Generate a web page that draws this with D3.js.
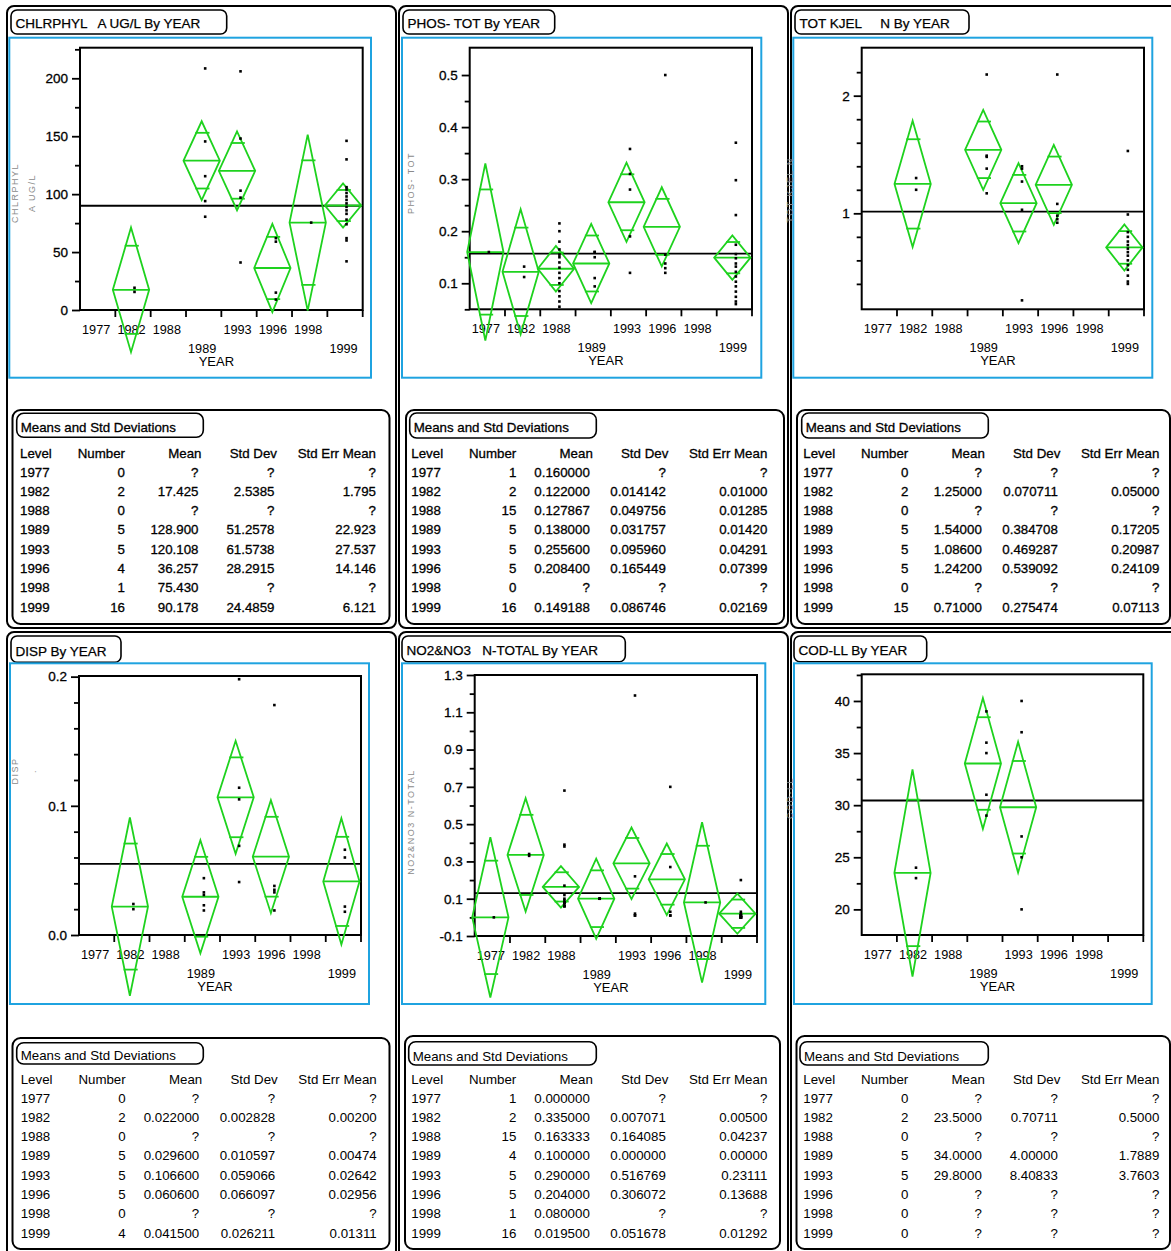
<!DOCTYPE html>
<html>
<head>
<meta charset="utf-8">
<script src="https://cdn.jsdelivr.net/npm/d3@7"></script>
<style>
  body { margin: 0; background: #fff; }
  svg text { font-family: "Liberation Sans", Arial, Helvetica, sans-serif; fill: #000; }
</style>
</head>
<body>
<svg id="chart" width="1171" height="1251"></svg>
<script>
// ---- data -------------------------------------------------------------
const years = ["1977", "1982", "1988", "1989", "1993", "1996", "1998", "1999"];
const labelRow = [0, 0, 0, 1, 0, 0, 0, 1];

const titles = ["CHLRPHYL   A UG/L By YEAR", "PHOS- TOT By YEAR", "TOT KJEL     N By YEAR",
                "DISP By YEAR", "NO2&NO3   N-TOTAL By YEAR", "COD-LL By YEAR"];
const sideLabels = [["CHLRPHYL", "A UG/L"], ["PHOS- TOT"], ["TOT KJEL N"], ["DISP", "."], ["NO2&NO3 N-TOTAL"], ["COD-LL"]];

const counts = [
  [0, 2, 0, 5, 5, 4, 1, 16],
  [1, 2, 15, 5, 5, 5, 0, 16],
  [0, 2, 0, 5, 5, 5, 0, 15],
  [0, 2, 0, 5, 5, 5, 0, 4],
  [1, 2, 15, 4, 5, 5, 1, 16],
  [0, 2, 0, 5, 5, 0, 0, 0]
];
const meanText = [
  ["?", "17.425", "?", "128.900", "120.108", "36.257", "75.430", "90.178"],
  ["0.160000", "0.122000", "0.127867", "0.138000", "0.255600", "0.208400", "?", "0.149188"],
  ["?", "1.25000", "?", "1.54000", "1.08600", "1.24200", "?", "0.71000"],
  ["?", "0.022000", "?", "0.029600", "0.106600", "0.060600", "?", "0.041500"],
  ["0.000000", "0.335000", "0.163333", "0.100000", "0.290000", "0.204000", "0.080000", "0.019500"],
  ["?", "23.5000", "?", "34.0000", "29.8000", "?", "?", "?"]
];
const sdText = [
  ["?", "2.5385", "?", "51.2578", "61.5738", "28.2915", "?", "24.4859"],
  ["?", "0.014142", "0.049756", "0.031757", "0.095960", "0.165449", "?", "0.086746"],
  ["?", "0.070711", "?", "0.384708", "0.469287", "0.539092", "?", "0.275474"],
  ["?", "0.002828", "?", "0.010597", "0.059066", "0.066097", "?", "0.026211"],
  ["?", "0.007071", "0.164085", "0.000000", "0.516769", "0.306072", "?", "0.051678"],
  ["?", "0.70711", "?", "4.00000", "8.40833", "?", "?", "?"]
];
const seText = [
  ["?", "1.795", "?", "22.923", "27.537", "14.146", "?", "6.121"],
  ["?", "0.01000", "0.01285", "0.01420", "0.04291", "0.07399", "?", "0.02169"],
  ["?", "0.05000", "?", "0.17205", "0.20987", "0.24109", "?", "0.07113"],
  ["?", "0.00200", "?", "0.00474", "0.02642", "0.02956", "?", "0.01311"],
  ["?", "0.00500", "0.04237", "0.00000", "0.23111", "0.13688", "?", "0.01292"],
  ["?", "0.5000", "?", "1.7889", "3.7603", "?", "?", "?"]
];
// 95% diamond half-heights (pooled), as drawn
const ciHalf = [
  [null, 53.8, null, 34.0, 34.0, 38.0, 76.0, 19.0],
  [0.170, 0.120, 0.044, 0.076, 0.076, 0.076, null, 0.0425],
  [null, 0.537, null, 0.340, 0.340, 0.340, null, 0.196],
  [null, 0.069, null, 0.0437, 0.0437, 0.0437, null, 0.0488],
  [0.430, 0.304, 0.111, 0.215, 0.192, 0.192, 0.430, 0.1075],
  [null, 9.94, null, 6.28, 6.28, null, null, null]
];
const grandMean = [90, 0.157, 1.015, 0.055, 0.13, 30.45];

const points = [
  [[], [19.2, 15.6], [], [208.5, 145.5, 115.5, 94, 80.5], [206, 148, 103, 97, 41], [62, 59, 15, 9], [75.43],
   [146, 130, 106, 104, 101, 98, 95, 92, 89, 86, 83, 78, 74, 62, 60, 42]],
  [[0.16], [0.132, 0.112],
   [0.215, 0.20, 0.18, 0.165, 0.155, 0.15, 0.14, 0.13, 0.12, 0.11, 0.10, 0.085, 0.075, 0.065, 0.055],
   [0.16, 0.16, 0.15, 0.11, 0.094], [0.358, 0.31, 0.28, 0.19, 0.12], [0.5, 0.155, 0.138, 0.129, 0.12], [],
   [0.37, 0.298, 0.231, 0.174, 0.156, 0.148, 0.138, 0.132, 0.122, 0.113, 0.103, 0.094, 0.084, 0.074, 0.065, 0.06]],
  [[], [1.30, 1.20], [], [2.18, 1.49, 1.48, 1.38, 1.17], [1.40, 1.38, 1.27, 1.03, 0.26], [2.18, 1.08, 0.98, 0.95, 0.92], [],
   [1.53, 0.99, 0.84, 0.80, 0.76, 0.73, 0.70, 0.67, 0.64, 0.60, 0.56, 0.52, 0.47, 0.42, 0.40]],
  [[], [0.024, 0.020], [], [0.044, 0.033, 0.031, 0.023, 0.019], [0.198, 0.114, 0.105, 0.069, 0.041],
   [0.178, 0.038, 0.035, 0.033, 0.019], [], [0.066, 0.06, 0.022, 0.018]],
  [[0], [0.34, 0.33],
   [0.68, 0.39, 0.38, 0.17, 0.12, 0.10, 0.09, 0.08, 0.08, 0.08, 0.08, 0.07, 0.06, 0.06, 0.06],
   [0.1, 0.1, 0.1, 0.1], [1.19, 0.22, 0.02, 0.01, 0.01], [0.70, 0.27, 0.03, 0.01, 0.01], [0.08],
   [0.20, 0.03, 0.02, 0.01, 0.01, 0.01, 0.01, 0.01, 0, 0, 0, 0, 0, 0, 0, 0]],
  [[], [24, 23], [], [39, 36, 35, 31, 29], [40, 37, 27, 25, 20], [], [], []]
];

const yDomain = [[0, 226.4], [0.05, 0.5525], [0.184, 2.408], [0, 0.2005], [-0.1, 1.3], [17.54, 42.56]];
const yMajor = [[0, 50, 100, 150, 200], [0.1, 0.2, 0.3, 0.4, 0.5], [1, 2], [0, 0.1, 0.2],
                [-0.1, 0.1, 0.3, 0.5, 0.7, 0.9, 1.1, 1.3], [20, 25, 30, 35, 40]];
const yMinor = [[25, 75, 125, 175, 225], [0.05, 0.15, 0.25, 0.35, 0.45], [0.4, 0.6, 0.8, 1.2, 1.4, 1.6, 1.8, 2.2],
                [0.02, 0.04, 0.06, 0.08, 0.12, 0.14, 0.16, 0.18], [0, 0.2, 0.4, 0.6, 0.8, 1.0, 1.2],
                [22.5, 27.5, 32.5, 37.5, 42.5]];
const yFormat = ["d", ".1f", "d", ".1f", ".1f", "d"];
const headers = ["Level", "Number", "Mean", "Std Dev", "Std Err Mean"];

// ---- layout -----------------------------------------------------------
const layout = [
  {frame: [7, 6, 396, 628], title: [11, 10, 226.7, 34], blue: [9.3, 37.7, 371, 377.7], plot: [80, 47.7, 362.7, 310],
   table: [12.5, 410, 389.5, 624], tTitle: [16.7, 413.3, 203.3, 437.3], levelX: 20, headY: 458, side: [18, 35], sideY: 193, heavy: true},
  {frame: [399, 6, 788, 628], title: [403, 10, 554.7, 34], blue: [402, 37.7, 761.3, 377.7], plot: [469.7, 47.7, 752, 309.3],
   table: [406, 410, 784, 624], tTitle: [409.7, 413, 596.3, 438], levelX: 411.3, headY: 458, side: [414], sideY: 183, heavy: true},
  {frame: [791, 6, 1180, 628], title: [795, 10, 969, 34], blue: [793.3, 37.7, 1152.3, 377.7], plot: [861.7, 47.7, 1144, 309.3],
   table: [797, 410, 1170, 624], tTitle: [801.7, 413, 988.3, 438], levelX: 803.3, headY: 458, side: [793], sideY: 190, heavy: true},
  {frame: [7, 632, 396, 1262], title: [11, 636, 121, 662.3], blue: [10, 663.3, 369, 1004], plot: [79, 676, 361, 935],
   table: [12.5, 1038, 389.5, 1249], tTitle: [16.7, 1042.7, 203.3, 1064], levelX: 20.7, headY: 1084, side: [18, 36], sideY: 771, heavy: false},
  {frame: [399, 632, 788, 1262], title: [402, 636, 625.3, 661.7], blue: [402, 663.3, 765.3, 1004], plot: [474.7, 675, 757, 936],
   table: [405, 1036, 780, 1249], tTitle: [408.7, 1041.7, 596.3, 1065], levelX: 411.3, headY: 1084, side: [414], sideY: 822, heavy: false},
  {frame: [791, 632, 1180, 1262], title: [794, 636, 926.7, 661.7], blue: [794, 663.3, 1151.7, 1004], plot: [861.7, 674.3, 1143.3, 935],
   table: [796.5, 1036, 1170, 1249], tTitle: [800, 1041.7, 988.3, 1065], levelX: 803.3, headY: 1084, side: [793], sideY: 798, heavy: false}
];
// right edges of table columns relative to Level x
const colHead = [0, 105, 181.5, 257, 356];
const colVal = [0, 105, 178.5, 254.5, 356];

const green = "#1ed21e";
const blue = "#1fa3e0";
const locale = d3.formatLocale({decimal: ".", thousands: ",", grouping: [3], currency: ["", ""], minus: "-"});

const svg = d3.select("#chart");
svg.append("rect").attr("width", 1171).attr("height", 1251).attr("fill", "#fff");

function box(g, b, r, sw) {
  return g.append("rect")
    .attr("x", b[0]).attr("y", b[1])
    .attr("width", b[2] - b[0]).attr("height", b[3] - b[1])
    .attr("rx", r).attr("ry", r)
    .attr("fill", "none").attr("stroke", "#000").attr("stroke-width", sw);
}

layout.forEach((L, p) => {
  const g = svg.append("g").attr("class", "panel-" + p);
  const heavy = L.heavy ? 0.3 : 0;

  // outer frame + title
  box(g, L.frame, 7, 2);
  box(g, L.title, 6, 1.6).attr("fill", "#fff");
  g.append("text")
    .attr("x", L.title[0] + 4.5).attr("y", L.title[3] - 6.3)
    .attr("font-size", 13.5).attr("stroke", "#000").attr("stroke-width", 0.25)
    .attr("xml:space", "preserve")
    .text(titles[p]);

  // blue report frame
  g.append("rect")
    .attr("x", L.blue[0]).attr("y", L.blue[1])
    .attr("width", L.blue[2] - L.blue[0]).attr("height", L.blue[3] - L.blue[1])
    .attr("fill", "none").attr("stroke", blue).attr("stroke-width", 2);

  // faint rotated y label
  sideLabels[p].forEach((s, k) => {
    if (L.side[k] === undefined) return;
    g.append("text")
      .attr("transform", `translate(${L.side[k]},${L.sideY}) rotate(-90)`)
      .attr("text-anchor", "middle").attr("font-size", 9)
      .style("fill", "#8a8a8a").attr("letter-spacing", 1.5)
      .text(s);
  });

  const [x0, y0, x1, y1] = L.plot;
  const x = d3.scaleBand().domain(years).range([x0, x1]).padding(0);
  const y = d3.scaleLinear().domain(yDomain[p]).range([y1, y0]);
  const bw = x.bandwidth();

  // y axis (major + minor)
  const ax = g.append("g").attr("transform", `translate(${x0},0)`)
    .call(d3.axisLeft(y).tickValues(yMajor[p]).tickSize(8).tickPadding(4).tickFormat(locale.format(yFormat[p])));
  ax.select(".domain").remove();
  ax.selectAll("line").attr("stroke", "#000").attr("stroke-width", 1.8);
  ax.selectAll("text").attr("font-size", 13.5).attr("font-family", null)
    .attr("stroke", "#000").attr("stroke-width", 0.3);
  const axm = g.append("g").attr("transform", `translate(${x0},0)`)
    .call(d3.axisLeft(y).tickValues(yMinor[p]).tickSize(5).tickFormat(""));
  axm.select(".domain").remove();
  axm.selectAll("line").attr("stroke", "#000").attr("stroke-width", 1.8);

  // plot frame
  g.append("rect")
    .attr("x", x0).attr("y", y0).attr("width", x1 - x0).attr("height", y1 - y0)
    .attr("fill", "none").attr("stroke", "#000").attr("stroke-width", 2);

  // x ticks at category boundaries
  g.append("g").selectAll("line")
    .data(years)
    .join("line")
    .attr("x1", d => x(d) + bw).attr("x2", d => x(d) + bw)
    .attr("y1", y1).attr("y2", y1 + 7)
    .attr("stroke", "#000").attr("stroke-width", 1.8);

  g.append("g").selectAll("text")
    .data(years)
    .join("text")
    .attr("x", (d, i) => x(d) + bw / 2 - 1.5)
    .attr("y", (d, i) => y1 + 23.5 + labelRow[i] * 19.5)
    .attr("text-anchor", "middle").attr("font-size", 12.7)
    .text(d => d);

  g.append("text")
    .attr("x", (x0 + x1) / 2 - 5).attr("y", y1 + 55.5)
    .attr("text-anchor", "middle").attr("font-size", 13)
    .text("YEAR");

  // grand mean
  g.append("line")
    .attr("x1", x0).attr("x2", x1)
    .attr("y1", y(grandMean[p])).attr("y2", y(grandMean[p]))
    .attr("stroke", "#000").attr("stroke-width", 1.8);

  // means diamonds
  const groups = years.map((yr, i) => ({
    yr, n: counts[p][i], m: parseFloat(meanText[p][i]), ci: ciHalf[p][i], pts: points[p][i]
  })).filter(d => d.n > 0 && d.ci !== null);

  const dg = g.append("g").attr("fill", "none").attr("stroke", green).attr("stroke-width", 1.8);
  groups.forEach(d => {
    const cx = x(d.yr) + bw / 2 - 2;
    const hw = bw / 2 + 0.5;
    dg.append("path")
      .attr("d", `M${cx - hw},${y(d.m)}L${cx},${y(d.m + d.ci)}L${cx + hw},${y(d.m)}L${cx},${y(d.m - d.ci)}Z`);
    dg.append("line")
      .attr("x1", cx - hw).attr("x2", cx + hw)
      .attr("y1", y(d.m)).attr("y2", y(d.m));
    const ow = hw * (1 - Math.SQRT1_2);
    [1, -1].forEach(s => {
      const v = y(d.m + s * d.ci * Math.SQRT1_2);
      dg.append("line")
        .attr("x1", cx - ow - 1).attr("x2", cx + ow + 2.5)
        .attr("y1", v).attr("y2", v);
    });
  });

  // raw points
  const pg = g.append("g");
  years.forEach((yr, i) => {
    const cx = x(yr) + bw / 2 + 1.5;
    pg.selectAll(null)
      .data(points[p][i])
      .join("rect")
      .attr("x", cx - 1.3).attr("y", v => y(v) - 1.3)
      .attr("width", 2.6).attr("height", 2.6)
      .attr("fill", "#000");
  });

  // Means and Std Deviations table
  box(g, L.table, 8, 2);
  box(g, L.tTitle, 7, 1.6);
  const tg = g.append("g").attr("font-size", 13.3)
    .attr("stroke", heavy ? "#000" : null).attr("stroke-width", heavy || null);
  tg.append("text")
    .attr("x", L.tTitle[0] + 4).attr("y", Math.min(L.tTitle[1] + 19, L.tTitle[3] - 4.5))
    .text("Means and Std Deviations");

  headers.forEach((h, c) => {
    tg.append("text")
      .attr("x", L.levelX + colHead[c]).attr("y", L.headY)
      .attr("text-anchor", c === 0 ? "start" : "end")
      .text(h);
  });

  const rows = years.map((yr, i) => [yr, String(counts[p][i]), meanText[p][i], sdText[p][i], seText[p][i]]);
  rows.forEach((r, i) => {
    r.forEach((cell, c) => {
      tg.append("text")
        .attr("x", L.levelX + colVal[c]).attr("y", L.headY + 18.5 + i * 19.3)
        .attr("text-anchor", c === 0 ? "start" : "end")
        .text(cell);
    });
  });
});
</script>
</body>
</html>
